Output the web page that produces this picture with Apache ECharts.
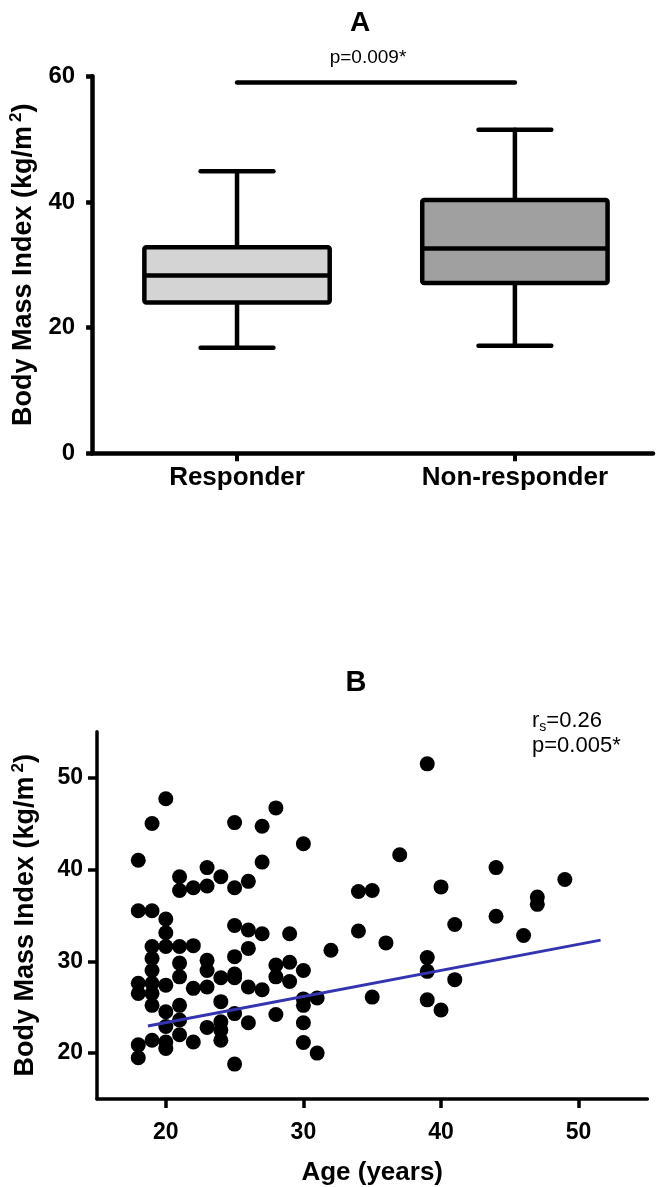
<!DOCTYPE html>
<html><head><meta charset="utf-8">
<script src="https://cdn.jsdelivr.net/npm/echarts@6/dist/echarts.min.js"></script>
<style>html,body{margin:0;padding:0;background:#fff}#c{width:661px;height:1187px}</style>
</head><body><div id="c"></div>
<script>
// ---- Panel A data ----
const boxCategories = ['Responder', 'Non-responder'];
const responderStats = [16.8, 24.0, 28.3, 32.8, 44.9];      // min, q1, median, q3, max
const nonResponderStats = [17.1, 27.1, 32.6, 40.3, 51.5];
const sigValue = 59;
const boxYTicks = [0, 20, 40, 60];
const pTextA = 'p=0.009*';

// ---- Panel B data ----
const ages = [20,19,18,25,27,28,30,27,23,24,21,21,22,23,25,26,
  39,37,44,49,40,34,35,47,47,44,41,46,34,36,32,39,39,41,35,39,40,31,31,30,30,30,30,30,
  18,19,20,20,25,26,27,29,
  19,20,21,22,26,
  19,21,23,25,28,29,
  19,23,25,21,24,25,28,29,
  18,19,20,22,23,26,27,
  18,19,
  19,21,24,
  20,25,28,
  21,24,26,
  20,23,24,
  21,
  19,20,22,24,
  18,20,18,25];
const bmis = [47.7,45.0,41.0,45.1,44.7,46.7,42.8,40.8,40.2,39.2,39.2,37.7,38.0,38.2,38.0,38.7,
  51.5,41.6,40.2,38.9,38.1,37.6,37.7,37.0,36.2,34.9,34.0,32.8,33.3,32.0,31.2,30.4,28.9,28.0,26.1,25.8,24.7,26.0,20.0,25.9,25.2,23.3,21.15,29.0,
  35.5,35.5,34.6,33.1,33.9,33.4,33.0,33.0,
  31.6,31.6,31.6,31.7,31.4,
  30.3,29.8,30.1,30.5,29.6,29.9,
  29.0,29.0,28.6,28.3,28.2,28.2,28.3,27.8,
  27.6,27.6,27.4,27.05,27.2,27.2,26.9,
  26.5,26.5,
  25.2,25.2,25.6,
  24.5,24.3,24.2,
  23.6,23.4,23.3,
  22.9,22.8,22.5,
  22.0,
  21.4,21.2,21.2,21.4,
  20.9,20.5,19.5,18.8];
const fitAges = [18.7, 51.6];
const fitBmis = [22.95, 32.3];
const ageTicks = [20, 30, 40, 50];
const bmiTicks = [20, 30, 40, 50];
const rsText = '0.26';
const pTextB = 'p=0.005*';

const FONT = '"Liberation Sans", Arial, sans-serif';
const boxFills = ['#d4d4d4', '#a0a0a0'];

const chart = echarts.init(document.getElementById('c'), null, {renderer: 'canvas'});

const boxData = [[0].concat(responderStats), [1].concat(nonResponderStats)];
const scatterData = ages.map((a, i) => [a, bmis[i]]);
const fitData = fitAges.map((a, i) => [a, fitBmis[i]]);

const yName = '{t|Body Mass Index (kg/m}{sup|2}{t|)}';
const yNameRich = {
  t: {fontFamily: FONT, fontWeight: 'bold', fontSize: 27, color: '#000', lineHeight: 32},
  sup: {fontFamily: FONT, fontWeight: 'bold', fontSize: 17, color: '#000', verticalAlign: 'top', padding: [0, 0, 0, 4]}
};
const tickLabelTop = {fontFamily: FONT, fontWeight: 'bold', fontSize: 24, color: '#000'};
const tickLabel = {fontFamily: FONT, fontWeight: 'bold', fontSize: 23, color: '#000'};

function renderBox(params, api) {
  const idx = api.value(0);
  const pMin = api.coord([idx, api.value(1)]);
  const pQ1 = api.coord([idx, api.value(2)]);
  const pMd = api.coord([idx, api.value(3)]);
  const pQ3 = api.coord([idx, api.value(4)]);
  const pMax = api.coord([idx, api.value(5)]);
  const unit = api.size([1, 0])[0];
  const bw = unit * 0.667, cw = unit * 0.262;
  const cx = pMd[0];
  const st = {stroke: '#000', lineWidth: 4.5, lineCap: 'round'};
  return {type: 'group', children: [
    {type: 'line', shape: {x1: cx, y1: pMax[1], x2: cx, y2: pQ3[1]}, style: st},
    {type: 'line', shape: {x1: cx, y1: pQ1[1], x2: cx, y2: pMin[1]}, style: st},
    {type: 'line', shape: {x1: cx - cw / 2, y1: pMax[1], x2: cx + cw / 2, y2: pMax[1]}, style: st},
    {type: 'line', shape: {x1: cx - cw / 2, y1: pMin[1], x2: cx + cw / 2, y2: pMin[1]}, style: st},
    {type: 'rect', shape: {x: cx - bw / 2, y: pQ3[1], width: bw, height: pQ1[1] - pQ3[1], r: 2},
      style: {fill: boxFills[idx], stroke: '#000', lineWidth: 4.5}},
    {type: 'line', shape: {x1: cx - bw / 2, y1: pMd[1], x2: cx + bw / 2, y2: pMd[1]}, style: {stroke: '#000', lineWidth: 4.5}}
  ]};
}

const option = {
  animation: false,
  backgroundColor: '#fff',
  grid: [
    {left: 81.7, right: 8, top: 76.3, bottom: 733.7},
    {left: 97, right: 13.6, top: 731.7, bottom: 88}
  ],
  xAxis: [
    {gridIndex: 0, type: 'value', min: -0.5216, max: 1.497,
      axisLine: {show: true, onZero: false, lineStyle: {color: '#000', width: 4.5}},
      axisTick: {show: true, customValues: [0, 1], length: 8, lineStyle: {color: '#000', width: 4}},
      axisLabel: {customValues: [0, 1], formatter: v => boxCategories[v] || '', margin: 12,
        fontFamily: FONT, fontWeight: 'bold', fontSize: 26, color: '#000'},
      splitLine: {show: false}},
    {gridIndex: 1, type: 'value', min: 15, max: 55,
      name: 'Age (years)', nameLocation: 'middle', nameGap: 61,
      nameTextStyle: {fontFamily: FONT, fontWeight: 'bold', fontSize: 26, color: '#000'},
      axisLine: {show: true, onZero: false, lineStyle: {color: '#000', width: 3.5}},
      axisTick: {show: true, customValues: ageTicks, length: 9, lineStyle: {color: '#000', width: 3.5}},
      axisLabel: Object.assign({customValues: ageTicks, margin: 22}, tickLabel),
      splitLine: {show: false}}
  ],
  yAxis: [
    {gridIndex: 0, type: 'value', min: 0, max: 60, interval: 20,
      name: yName, nameLocation: 'middle', nameGap: 42, nameTextStyle: {rich: yNameRich},
      axisLine: {show: true, onZero: false, lineStyle: {color: '#000', width: 4.5}},
      axisTick: {show: true, length: 6, lineStyle: {color: '#000', width: 4.5}},
      axisLabel: Object.assign({margin: 17}, tickLabelTop),
      splitLine: {show: false}},
    {gridIndex: 1, type: 'value', min: 15, max: 55,
      name: yName, nameLocation: 'middle', nameGap: 55, nameTextStyle: {rich: yNameRich},
      axisLine: {show: true, onZero: false, lineStyle: {color: '#000', width: 3.5}},
      axisTick: {show: true, customValues: bmiTicks, length: 9, lineStyle: {color: '#000', width: 3.5}},
      axisLabel: Object.assign({customValues: bmiTicks, margin: 14}, tickLabel),
      splitLine: {show: false}}
  ],
  series: [
    {type: 'custom', xAxisIndex: 0, yAxisIndex: 0, renderItem: renderBox, data: boxData,
      encode: {x: 0, y: [1, 2, 3, 4, 5]}, clip: false},
    {type: 'line', xAxisIndex: 0, yAxisIndex: 0, data: [[0, sigValue], [boxCategories.length - 1, sigValue]],
      showSymbol: false, symbol: 'none', lineStyle: {color: '#000', width: 4.5, cap: 'round'}},
    {type: 'scatter', xAxisIndex: 1, yAxisIndex: 1, data: scatterData, symbol: 'circle', symbolSize: 15,
      itemStyle: {color: '#000', opacity: 1}},
    {type: 'line', xAxisIndex: 1, yAxisIndex: 1, data: fitData, showSymbol: false, symbol: 'none', z: 5,
      lineStyle: {color: '#3434b0', width: 3}}
  ],
  graphic: [
    {type: 'text', x: 360, y: 23.5, style: {text: 'A', font: 'bold 28px ' + FONT, fill: '#000', align: 'center', verticalAlign: 'middle'}},
    {type: 'text', x: 368, y: 58, style: {text: pTextA, font: '19px ' + FONT, fill: '#000', align: 'center', verticalAlign: 'middle'}},
    {type: 'text', x: 356, y: 682.5, style: {text: 'B', font: 'bold 29px ' + FONT, fill: '#000', align: 'center', verticalAlign: 'middle'}},
    {type: 'text', x: 532, y: 721, style: {text: '{r|r}{s|s}{r|=' + rsText + '}', align: 'left', verticalAlign: 'middle',
      rich: {r: {fontFamily: FONT, fontSize: 22, fill: '#000', lineHeight: 27}, s: {fontFamily: FONT, fontSize: 14, fill: '#000', verticalAlign: 'bottom'}}}},
    {type: 'text', x: 532, y: 746, style: {text: pTextB, font: '22px ' + FONT, fill: '#000', align: 'left', verticalAlign: 'middle'}}
  ]
};
chart.setOption(option);
</script>
</body></html>
